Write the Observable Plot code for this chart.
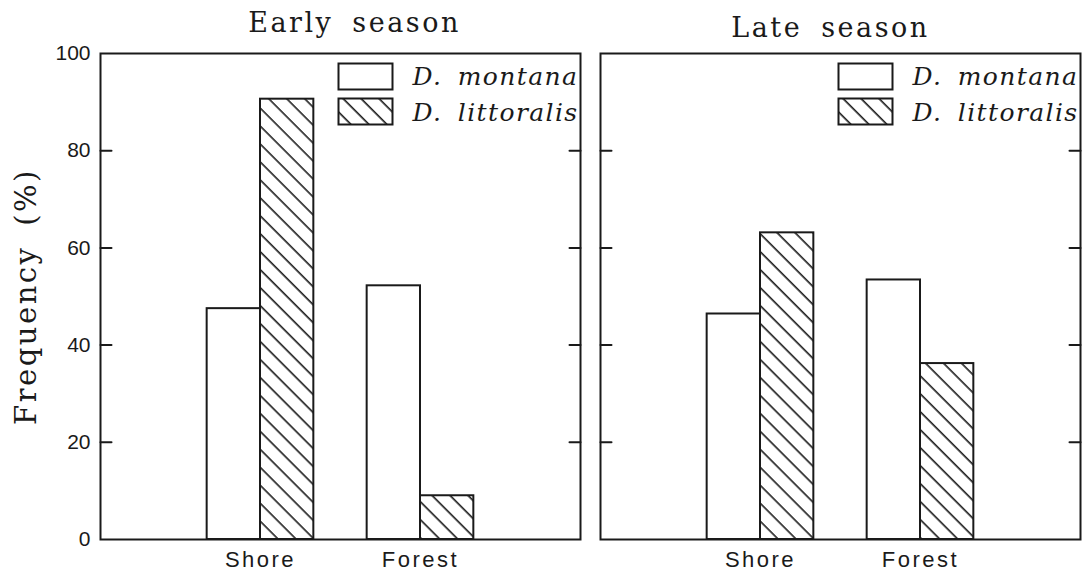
<!DOCTYPE html>
<html>
<head>
<meta charset="utf-8">
<script src="https://cdn.jsdelivr.net/npm/d3@7"></script>
<script src="https://cdn.jsdelivr.net/npm/@observablehq/plot@0.6"></script>
<style>
  html, body { margin: 0; padding: 0; background: #fff; }
  #chart { position: relative; width: 1088px; height: 582px; }
</style>
</head>
<body>
<svg width="0" height="0" style="position:absolute">
  <defs>
    <pattern id="hatch" patternUnits="userSpaceOnUse" width="12.7" height="12.7" patternTransform="rotate(-45)">
      <rect width="12.7" height="12.7" fill="#fff"></rect>
      <line x1="6" y1="-1" x2="6" y2="14" stroke="#1a1a1a" stroke-width="1.6"></line>
    </pattern>
  </defs>
</svg>
<div id="chart"></div>
<script>
// ---- data ----
const seasons = ["Early season", "Late season"];
const habitats = ["Shore", "Forest"];
const species = ["D. montana", "D. littoralis"];
const earlyMontana = [47.5, 52.2];
const earlyLittoralis = [90.6, 9.0];
const lateMontana = [46.4, 53.4];
const lateLittoralis = [63.1, 36.2];
const yTicks = [0, 20, 40, 60, 80, 100];
const yInnerTicks = [20, 40, 60, 80];
const yLabel = "Frequency (%)";

// ---- table built from the arrays ----
const montanaBySeason = [earlyMontana, lateMontana];
const littoralisBySeason = [earlyLittoralis, lateLittoralis];
const rows = [];
seasons.forEach((s, si) => {
  habitats.forEach((h, hi) => {
    rows.push({season: s, habitat: h, species: species[0], pos: hi + 1, value: montanaBySeason[si][hi]});
    rows.push({season: s, habitat: h, species: species[1], pos: hi + 1, value: littoralisBySeason[si][hi]});
  });
});
const bw = 1 / 3;
const isMont = d => d.species === species[0];
const x1 = d => isMont(d) ? d.pos - bw : d.pos;
const x2 = d => isMont(d) ? d.pos : d.pos + bw;

const ink = "#1a1a1a";
const tickShape = {draw(ctx, l) { ctx.moveTo(0, 0); ctx.lineTo(0, -l); }};
const boxSymbol = {draw(ctx) { ctx.rect(-27, -13, 54, 26); }};
const serif = "DejaVu Serif, serif";

const chart = Plot.plot({
  width: 1088,
  height: 582,
  marginTop: 53,
  marginBottom: 43,
  marginLeft: 100,
  marginRight: 8,
  style: {fontFamily: "Liberation Sans, Arial, sans-serif", fontSize: "20px", color: ink, background: "#fff"},
  fx: {domain: seasons, paddingInner: 0.04, paddingOuter: 0, axis: null},
  x: {domain: [0, 3], axis: null},
  y: {domain: [0, 100], axis: null},
  marks: [
    // bars
    Plot.rectX(rows.filter(isMont), {fx: "season", x1, x2, y1: 0, y2: "value", fill: "#fff", stroke: ink, strokeWidth: 2}),
    Plot.rectX(rows.filter(d => !isMont(d)), {fx: "season", x1, x2, y1: 0, y2: "value", fill: "url(#hatch)", stroke: ink, strokeWidth: 2}),
    // frame
    Plot.frame({stroke: ink, strokeWidth: 2}),
    // inward ticks on both sides of each panel
    Plot.vector(yInnerTicks, {y: d => d, frameAnchor: "left", rotate: 90, length: 11, anchor: "start", shape: tickShape, stroke: ink, strokeWidth: 2}),
    Plot.vector(yInnerTicks, {y: d => d, frameAnchor: "right", rotate: -90, length: 11, anchor: "start", shape: tickShape, stroke: ink, strokeWidth: 2}),
    // y tick labels (left panel only)
    Plot.axisY(yTicks, {anchor: "left", tickSize: 0, tickPadding: 10, label: null, fontSize: 21, fill: ink}),
    // habitat labels
    Plot.axisX([1, 2], {anchor: "bottom", tickSize: 0, tickPadding: 12, tickFormat: v => habitats[v - 1], label: null, fontSize: 22, fill: ink}),
    // panel titles
    Plot.text([seasons[0]], {fx: d => d, text: d => d, frameAnchor: "top", dx: 14, dy: -30, lineAnchor: "middle", textAnchor: "middle", fontFamily: serif, fontSize: 27, fill: ink}),
    Plot.text([seasons[1]], {fx: d => d, text: d => d, frameAnchor: "top", dx: -10, dy: -25, lineAnchor: "middle", textAnchor: "middle", fontFamily: serif, fontSize: 27, fill: ink}),
    // y axis title
    Plot.text([seasons[0]], {fx: d => d, text: () => yLabel, frameAnchor: "left", textAnchor: "middle", lineAnchor: "middle", rotate: -90, dx: -74, fontFamily: serif, fontSize: 29, fill: ink}),
    // legend swatches
    Plot.dot([species[0]], {frameAnchor: "top-right", dx: -215, dy: 23, r: 5, symbol: boxSymbol, fill: "#fff", stroke: ink, strokeWidth: 2}),
    Plot.dot([species[1]], {frameAnchor: "top-right", dx: -215, dy: 58, r: 5, symbol: boxSymbol, fill: "url(#hatch)", stroke: ink, strokeWidth: 2}),
    // legend labels
    Plot.text([species[0]], {text: d => d, frameAnchor: "top-right", dx: -168, dy: 23, textAnchor: "start", lineAnchor: "middle", fontFamily: serif, fontStyle: "italic", fontSize: 25, fill: ink}),
    Plot.text([species[1]], {text: d => d, frameAnchor: "top-right", dx: -168, dy: 59, textAnchor: "start", lineAnchor: "middle", fontFamily: serif, fontStyle: "italic", fontSize: 25, fill: ink})
  ]
});

// letter / word spacing to mimic the original typesetting
d3.select(chart).selectAll("text").each(function() {
  const t = this.textContent;
  if (species.includes(t)) { this.style.letterSpacing = "1.4px"; this.style.wordSpacing = "6px"; }
  else if (habitats.includes(t)) { this.style.letterSpacing = "2.5px"; }
  else if (seasons.includes(t)) { this.style.letterSpacing = "2.5px"; this.style.wordSpacing = "8px"; }
  else if (t === yLabel) { this.style.letterSpacing = "2.5px"; this.style.wordSpacing = "8px"; }
});
document.getElementById("chart").appendChild(chart);
</script>
</body>
</html>
